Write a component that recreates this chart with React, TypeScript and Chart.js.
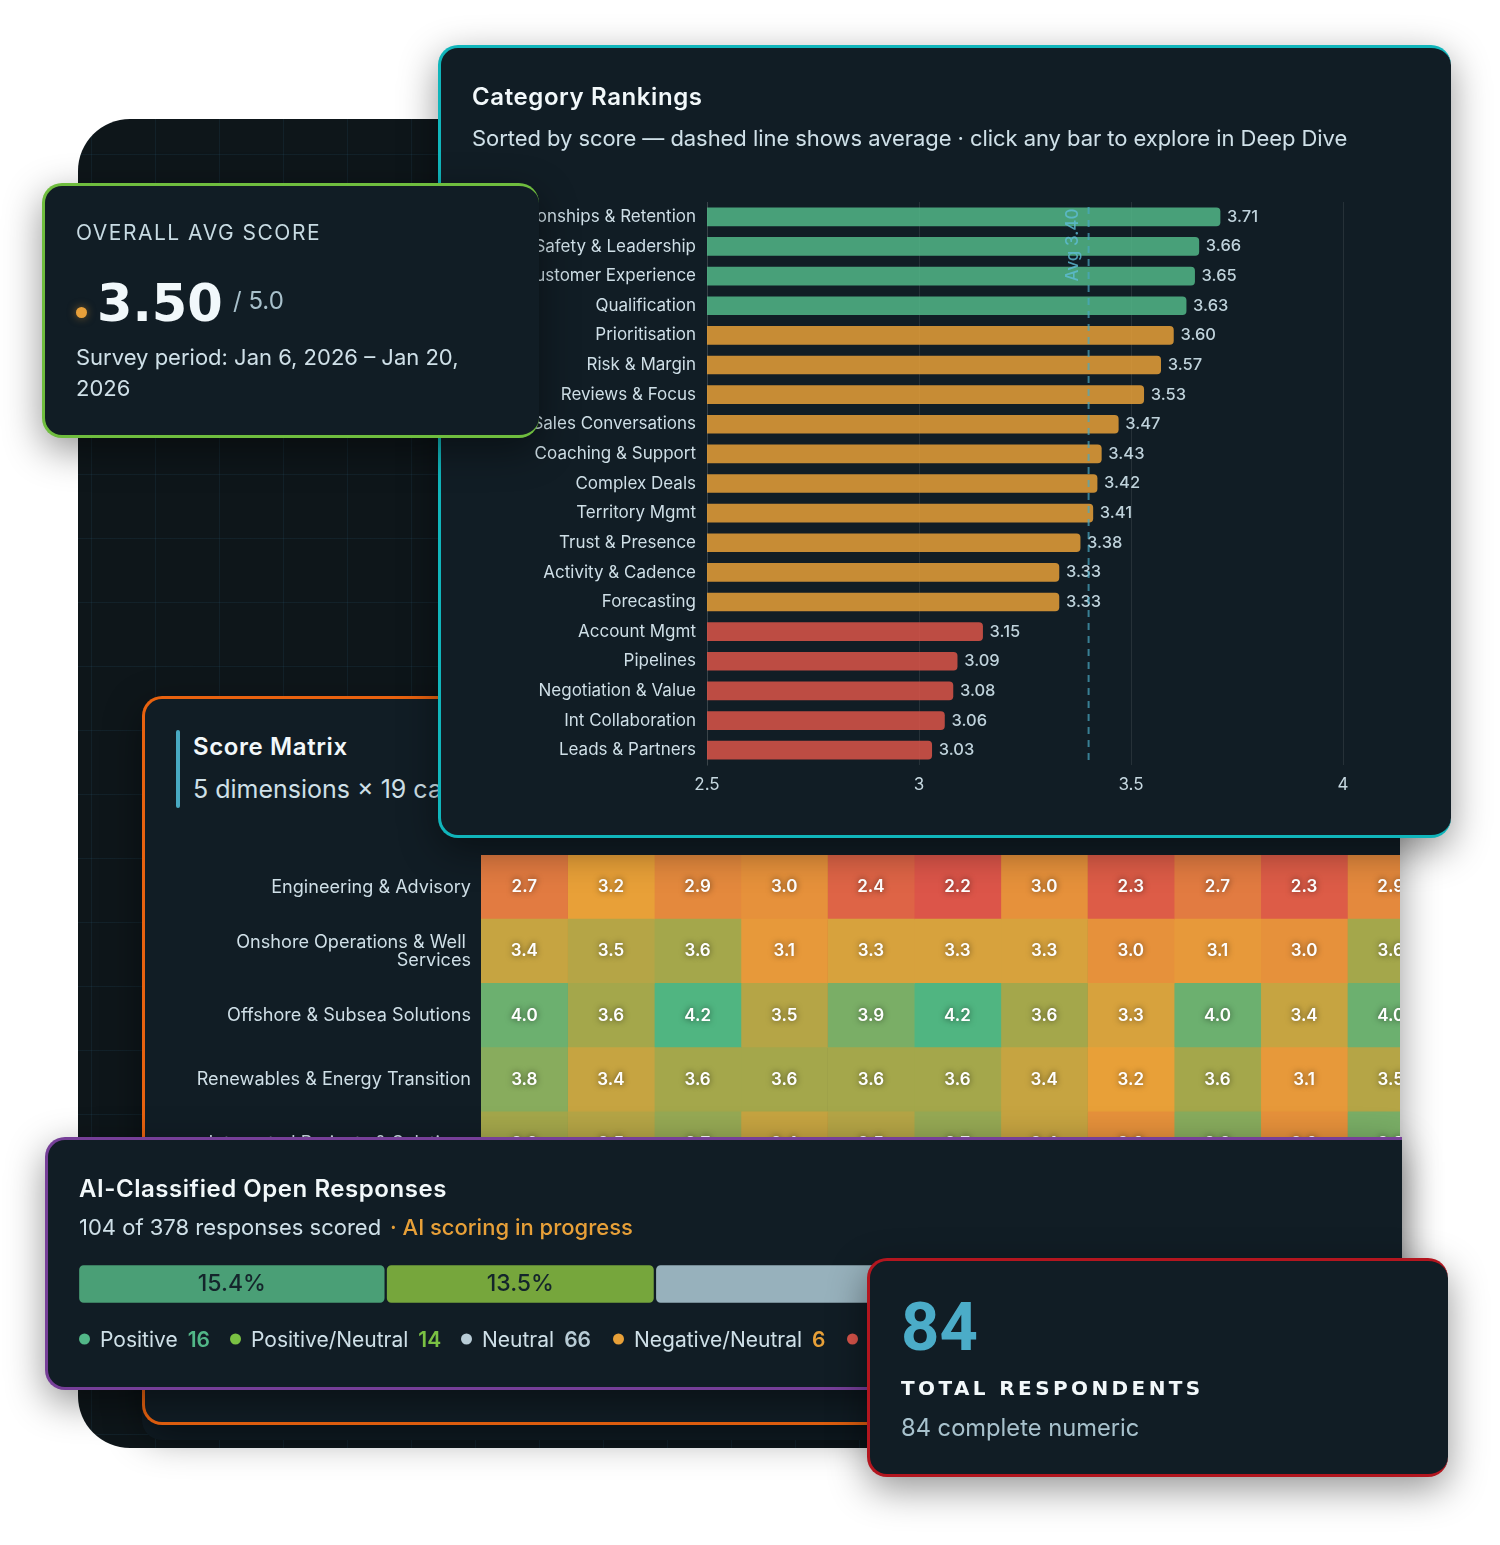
import React, { useEffect, useRef } from 'react';
import { Chart, registerables } from 'chart.js';

Chart.register(...registerables);

const BODY = 'Inter, sans-serif';
const HEAD = 'Inter, sans-serif';
const WIDE = '"DejaVu Sans", sans-serif';
const CARD = '#111d25';

// category rankings
const rankLabels = [
  'Relationships & Retention', 'Safety & Leadership', 'Customer Experience', 'Qualification',
  'Prioritisation', 'Risk & Margin', 'Reviews & Focus', 'Sales Conversations', 'Coaching & Support',
  'Complex Deals', 'Territory Mgmt', 'Trust & Presence', 'Activity & Cadence', 'Forecasting',
  'Account Mgmt', 'Pipelines', 'Negotiation & Value', 'Int Collaboration', 'Leads & Partners',
];
const rankScores = [3.71, 3.66, 3.65, 3.63, 3.6, 3.57, 3.53, 3.47, 3.43, 3.42, 3.41, 3.38, 3.33, 3.33, 3.15, 3.09, 3.08, 3.06, 3.03];
const rankAverage = 3.4;

// score matrix, only the visible columns
const matrixLabels = [
  'Engineering & Advisory',
  ['Onshore Operations & Well ', 'Services'],
  'Offshore & Subsea Solutions',
  'Renewables & Energy Transition',
  'Integrated Projects & Solutions',
];
const engineeringRow = [2.7, 3.2, 2.9, 3.0, 2.4, 2.2, 3.0, 2.3, 2.7, 2.3, 2.9];
const onshoreRow = [3.4, 3.5, 3.6, 3.1, 3.3, 3.3, 3.3, 3.0, 3.1, 3.0, 3.6];
const offshoreRow = [4.0, 3.6, 4.2, 3.5, 3.9, 4.2, 3.6, 3.3, 4.0, 3.4, 4.0];
const renewablesRow = [3.8, 3.4, 3.6, 3.6, 3.6, 3.6, 3.4, 3.2, 3.6, 3.1, 3.5];
const integratedRow = [3.6, 3.5, 3.7, 3.4, 3.5, 3.7, 3.4, 3.0, 3.8, 3.0, 3.9];
const matrixRows = [engineeringRow, onshoreRow, offshoreRow, renewablesRow, integratedRow];

// open responses
const sentimentNames = ['Positive', 'Positive/Neutral', 'Neutral', 'Negative/Neutral', 'Negative'];
const sentimentCounts = [16, 14, 66, 6, 2];
const sentimentBar = ['#4a9f76', '#76a63c', '#97b1bc', '#c98f39', '#c04f47'];
const sentimentDot = ['#52b788', '#7ac143', '#b8ccd6', '#e8a038', '#d9544a'];
const responsesScored = 104;

const mix = (a: number[], b: number[], t: number) =>
  `rgb(${a.map((v, i) => Math.round(v + (b[i] - v) * t)).join(',')})`;

// red, amber, olive, green ramp used by the matrix
const scoreColor = (s: number) => {
  const red = [220, 85, 73];
  const amber = [232, 160, 56];
  const olive = [164, 167, 75];
  const green = [80, 181, 129];
  if (s <= 3.2) return mix(red, amber, Math.max(0, s - 2.2));
  if (s <= 3.6) return mix(amber, olive, (s - 3.2) / 0.4);
  return mix(olive, green, Math.min(1, (s - 3.6) / 0.6));
};

const rankColor = (s: number) =>
  s > 3.6 ? 'rgba(82,183,136,.85)' : s >= 3.2 ? 'rgba(232,160,56,.85)' : 'rgba(220,85,73,.85)';

// chart.js reserves room for half a label above and below, these plots run edge to edge
const noOverhang = (s: any) => { s.paddingTop = 0; s.paddingBottom = 0; };

function RankChart() {
  const ref = useRef<HTMLCanvasElement>(null);
  useEffect(() => {
    const chart = new Chart(ref.current!, {
      type: 'bar',
      data: {
        labels: rankLabels,
        datasets: [{
          data: rankScores,
          backgroundColor: rankScores.map(rankColor),
          barThickness: 18,
          borderRadius: 4,
        }],
      },
      options: {
        indexAxis: 'y',
        responsive: false,
        animation: false,
        layout: { padding: { top: 12, right: 77 } },
        plugins: { legend: { display: false }, tooltip: { enabled: false } },
        scales: {
          x: {
            min: 2.5,
            max: 4,
            afterFit: (s: any) => { s.height = 35; },
            grid: { color: 'rgba(255,255,255,.09)', drawTicks: false },
            border: { display: false },
            ticks: {
              stepSize: 0.5,
              padding: 10,
              color: '#c6d8e0',
              font: { family: BODY, size: 17 },
              callback: (v: any) => String(v),
            },
          },
          y: {
            afterFit: (s: any) => { s.width = 257; noOverhang(s); },
            grid: { display: false, drawTicks: false },
            border: { color: 'rgba(255,255,255,.09)' },
            ticks: {
              autoSkip: false,
              padding: 11,
              color: '#cfdfe7',
              font: { family: BODY, size: 17 },
            },
          },
        },
      },
      plugins: [{
        id: 'rankExtras',
        afterDatasetsDraw(c: any) {
          const { ctx, chartArea } = c;
          ctx.save();
          ctx.font = `500 16.5px ${BODY}`;
          ctx.fillStyle = '#bfd2db';
          ctx.textBaseline = 'middle';
          c.getDatasetMeta(0).data.forEach((bar: any, i: number) => {
            ctx.fillText(rankScores[i].toFixed(2), bar.x + 7, bar.y);
          });
          const ax = c.scales.x.getPixelForValue(rankAverage);
          ctx.strokeStyle = 'rgba(72,170,195,.7)';
          ctx.lineWidth = 2;
          ctx.setLineDash([7, 6]);
          ctx.beginPath();
          ctx.moveTo(ax, chartArea.top + 5);
          ctx.lineTo(ax, chartArea.bottom);
          ctx.stroke();
          ctx.translate(ax - 16, chartArea.top + 43);
          ctx.rotate(-Math.PI / 2);
          ctx.font = `500 17px ${BODY}`;
          ctx.fillStyle = 'rgba(95,190,215,.8)';
          ctx.textAlign = 'center';
          ctx.fillText(`Avg ${rankAverage.toFixed(2)}`, 0, 0);
          ctx.restore();
        },
      }],
    } as any);
    return () => chart.destroy();
  }, []);
  return <canvas ref={ref} width={970} height={610} style={{ position: 'absolute', left: 450, top: 190 }} />;
}

function MatrixChart() {
  const ref = useRef<HTMLCanvasElement>(null);
  useEffect(() => {
    const chart = new Chart(ref.current!, {
      type: 'bar',
      data: {
        labels: matrixLabels,
        datasets: engineeringRow.map((_, col) => ({
          data: matrixRows.map(() => 1),
          backgroundColor: matrixRows.map((row) => scoreColor(row[col])),
          barPercentage: 1,
          categoryPercentage: 1,
        })),
      },
      options: {
        indexAxis: 'y',
        responsive: false,
        animation: false,
        plugins: { legend: { display: false }, tooltip: { enabled: false } },
        scales: {
          x: { display: false, stacked: true, min: 0, max: engineeringRow.length },
          y: {
            stacked: true,
            afterFit: (s: any) => { s.width = 339; noOverhang(s); },
            grid: { display: false, drawTicks: false },
            border: { display: false },
            ticks: {
              autoSkip: false,
              padding: 10,
              color: '#cfdfe7',
              font: { family: BODY, size: 18.1, lineHeight: 1 },
            },
          },
        },
      },
      plugins: [{
        id: 'cellText',
        afterDatasetsDraw(c: any) {
          const { ctx } = c;
          ctx.save();
          ctx.font = `600 17px ${BODY}`;
          ctx.fillStyle = '#fff';
          ctx.textAlign = 'center';
          ctx.textBaseline = 'middle';
          ctx.shadowColor = 'rgba(0,0,0,.6)';
          ctx.shadowBlur = 6;
          c.data.datasets.forEach((_: any, col: number) => {
            c.getDatasetMeta(col).data.forEach((cell: any, r: number) => {
              ctx.fillText(matrixRows[r][col].toFixed(1), (cell.base + cell.x) / 2, cell.y);
            });
          });
          ctx.restore();
        },
      }],
    } as any);
    return () => chart.destroy();
  }, []);
  return (
    <div style={{ position: 'absolute', left: 142, top: 855, width: 1258, height: 321, overflow: 'hidden' }}>
      <canvas ref={ref} width={1292} height={321} style={{ display: 'block' }} />
    </div>
  );
}

function SentimentChart() {
  const ref = useRef<HTMLCanvasElement>(null);
  useEffect(() => {
    // floating ranges rather than a stack, stacked bars only round the outer ends
    let from = 0;
    const ranges = sentimentCounts.map((n) => {
      const range = [from, from + n];
      from += n;
      return range;
    });
    const chart = new Chart(ref.current!, {
      type: 'bar',
      data: {
        labels: ['responses'],
        datasets: ranges.map((range, i) => ({
          data: [range],
          backgroundColor: sentimentBar[i],
          borderColor: CARD,
          borderWidth: 1.5,
          borderSkipped: false,
          borderRadius: 6,
          barPercentage: 1,
          categoryPercentage: 1,
          grouped: false,
        })),
      },
      options: {
        indexAxis: 'y',
        responsive: false,
        animation: false,
        plugins: { legend: { display: false }, tooltip: { enabled: false } },
        scales: {
          x: { display: false, min: 0, max: responsesScored },
          y: { display: false },
        },
      },
      plugins: [{
        id: 'segmentText',
        afterDatasetsDraw(c: any) {
          const { ctx } = c;
          ctx.save();
          ctx.font = `500 23px ${BODY}`;
          ctx.fillStyle = '#14252b';
          ctx.textAlign = 'center';
          ctx.textBaseline = 'middle';
          sentimentCounts.forEach((n, i) => {
            const seg = c.getDatasetMeta(i).data[0];
            ctx.fillText(`${((n / responsesScored) * 100).toFixed(1)}%`, (seg.base + seg.x) / 2, seg.y);
          });
          ctx.restore();
        },
      }],
    } as any);
    return () => chart.destroy();
  }, []);
  return (
    <div style={{ position: 'absolute', left: 77.5, top: 1264, width: 1322, height: 40, overflow: 'hidden' }}>
      <canvas ref={ref} width={2000} height={40} style={{ display: 'block' }} />
    </div>
  );
}

const SHADOW = '0 12px 38px rgba(0,0,0,.42)';

const Box = ({ x, y, x2, y2, color, noRight }: any) => (
  <div
    style={{
      position: 'absolute', left: x, top: y, width: x2 - x, height: y2 - y, boxSizing: 'border-box',
      background: CARD, border: `3px solid ${color}`, borderRight: noRight ? 'none' : undefined,
      borderRadius: noRight ? '20px 0 0 20px' : 20, boxShadow: SHADOW,
    }}
  />
);

const T = ({ x, y, size, color = '#d3e2e9', weight = 400, font = BODY, ls = 0, children }: any) => (
  <div
    style={{
      position: 'absolute', left: x, top: y, transform: 'translateY(-50%)', whiteSpace: 'nowrap',
      fontFamily: font, fontSize: size, fontWeight: weight, color, letterSpacing: ls, lineHeight: 1.2,
    }}
  >
    {children}
  </div>
);

export default function App() {
  const legendX = [79, 230, 461, 613, 847];
  return (
    <div style={{ position: 'absolute', left: 0, top: 0, width: 1500, height: 1545, background: '#fff', overflow: 'hidden' }}>
      {/* base panel with faint grid */}
      <div
        style={{
          position: 'absolute', left: 78, top: 119, width: 1322, height: 1329, borderRadius: '52px 0 0 52px',
          backgroundColor: '#0e161a',
          backgroundImage: 'linear-gradient(rgba(50,110,140,.13) 1px, transparent 1px), linear-gradient(90deg, rgba(50,110,140,.13) 1px, transparent 1px)',
          backgroundSize: '64px 64px',
          backgroundPosition: '13px 35px',
        }}
      />
      <div style={{ position: 'absolute', left: 142, top: 1300, width: 1258, height: 140, background: CARD, borderRadius: '0 0 0 20px' }} />

      {/* score matrix */}
      <Box x={142} y={696} x2={1400} y2={1425} color="#e8620f" noRight />
      <div style={{ position: 'absolute', left: 175.5, top: 730, width: 4, height: 78, borderRadius: 2, background: '#48a9c2' }} />
      <T x={193} y={747} size={24} color="#f2f8fa" weight={600} font={HEAD} ls={0.6}>Score Matrix</T>
      <T x={193} y={789} size={25} color="#cfe0e8">5 dimensions × 19 categories</T>
      <MatrixChart />

      {/* category rankings */}
      <Box x={438} y={45} x2={1451} y2={838} color="#10b5bb" />
      <T x={472} y={97} size={24} color="#f2f8fa" weight={600} font={HEAD} ls={0.6}>Category Rankings</T>
      <T x={472} y={138} size={22} color="#cfe0e8" ls={-0.06}>Sorted by score — dashed line shows average · click any bar to explore in Deep Dive</T>
      <RankChart />

      {/* overall score */}
      <Box x={42} y={183} x2={539} y2={438} color="#6fbd3e" />
      <T x={76} y={233} size={21} color="#c8dbe3" ls={1.5}>OVERALL AVG SCORE</T>
      <div style={{ position: 'absolute', left: 76, top: 306.5, width: 11, height: 11, borderRadius: '50%', background: '#e8a03a', boxShadow: '0 0 8px rgba(232,160,58,.5)' }} />
      <T x={97} y={304} size={51} color="#f1f8fb" weight={700} font={WIDE}>3.50</T>
      <T x={233} y={301} size={24} color="#a8c0cb">/ 5.0</T>
      <T x={76} y={357} size={22} color="#cfe0e8">Survey period: Jan 6, 2026 – Jan 20,</T>
      <T x={76} y={388} size={22} color="#cfe0e8">2026</T>

      {/* open responses */}
      <Box x={45} y={1137} x2={1402} y2={1390} color="#763f98" noRight />
      <T x={79} y={1189} size={24} color="#f2f8fa" weight={600} font={HEAD} ls={0.55}>AI-Classified Open Responses</T>
      <T x={79} y={1227} size={22} color="#cfe0e8">104 of 378 responses scored</T>
      <T x={390} y={1227} size={22} color="#e8a038" weight={500}>· AI scoring in progress</T>
      <SentimentChart />
      {sentimentNames.map((name, i) => (
        <div
          key={name}
          style={{
            position: 'absolute', left: legendX[i], top: 1339, transform: 'translateY(-50%)', display: 'flex', alignItems: 'center',
            fontFamily: BODY, fontSize: 21, color: '#cfe0e8', whiteSpace: 'nowrap',
          }}
        >
          <span style={{ width: 11, height: 11, borderRadius: '50%', background: sentimentDot[i], marginRight: 10 }} />
          {name}
          <span style={{ marginLeft: 10, color: sentimentDot[i], fontWeight: 600 }}>{sentimentCounts[i]}</span>
        </div>
      ))}

      {/* respondents */}
      <Box x={867} y={1258} x2={1448} y2={1477} color="#b3161f" />
      <T x={901} y={1327} size={67} color="#4bacc8" weight={700} font="Roboto, sans-serif">84</T>
      <T x={901} y={1388} size={20} color="#f2f8fa" weight={700} font={WIDE} ls={3.4}>TOTAL RESPONDENTS</T>
      <T x={901} y={1428} size={23.7} color="#a8c2cd">84 complete numeric</T>
    </div>
  );
}
